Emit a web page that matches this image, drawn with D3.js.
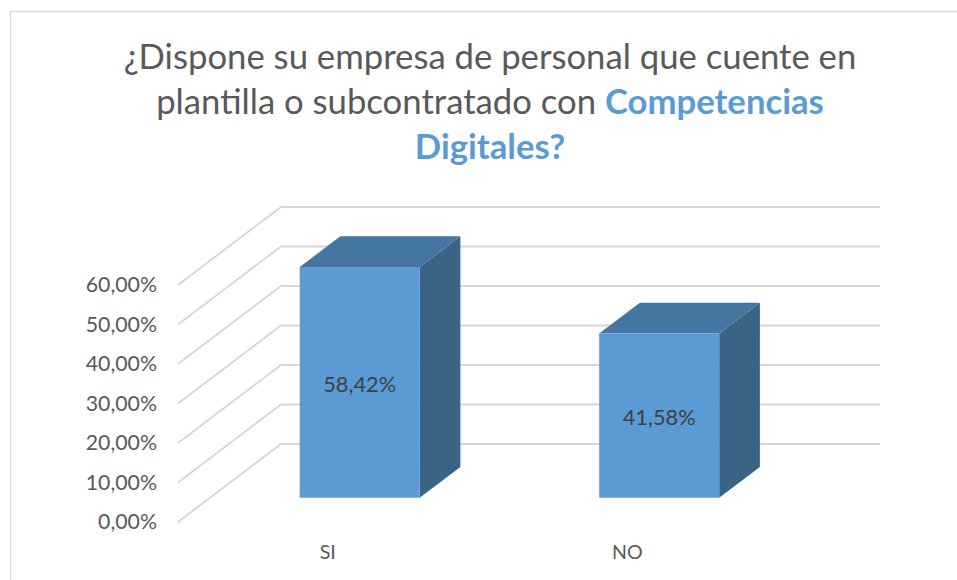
<!DOCTYPE html>
<html>
<head>
<meta charset="utf-8">
<script src="https://cdn.jsdelivr.net/npm/d3@7"></script>
<style>
  html, body { margin: 0; padding: 0; background: #fff; }
  svg { display: block; font-family: Lato, "Open Sans", sans-serif; }
</style>
</head>
<body>
<script>
// chart values
var categories = ["SI", "NO"];
var values = [58.42, 41.58];
var valueLabels = ["58,42%", "41,58%"];
var tickValues = [0, 10, 20, 30, 40, 50, 60];
var tickLabels = ["0,00%", "10,00%", "20,00%", "30,00%", "40,00%", "50,00%", "60,00%"];
var titleLines = [
  [{ text: "¿Dispone su empresa de personal que cuente en", bold: false }],
  [{ text: "plantilla o subcontratado con ", bold: false }, { text: "Competencias", bold: true }],
  [{ text: "Digitales?", bold: true }]
];

var svgWidth = 957;
var svgHeight = 580;

var svg = d3.select("body")
  .append("svg")
  .attr("width", svgWidth)
  .attr("height", svgHeight);

// frame of the chart, cut off by the picture at the right and bottom
svg.append("path")
  .attr("d", "M10.5,580V11.5H957")
  .attr("fill", "none")
  .attr("stroke", "#d9d9d9")
  .attr("stroke-width", 1.3);

// scales live on the front plane, depth shifts a point back into the box
var y = d3.scaleLinear().domain([0, 60]).range([522, 285]);
var x = d3.scaleBand().domain(categories).range([178, 777]);
var depthX = d3.scaleLinear().domain([0, 1]).range([0, 103]);
var depthY = d3.scaleLinear().domain([0, 1]).range([0, -78]);
var barFront = 0.31;
var barBack = 0.705;
var barWidth = 120;

function pt(px, val, depth) {
  return [px + depthX(depth), y(val) + depthY(depth)];
}

// back wall and side wall gridlines
var line = d3.line();
var grid = svg.append("g")
  .attr("fill", "none")
  .attr("stroke", "#d6d6d6")
  .attr("stroke-width", 1.8);

grid.selectAll(".back")
  .data(tickValues)
  .enter()
  .append("path")
  .attr("class", "back")
  .attr("d", d => line([pt(178, d, 1), pt(777, d, 1)]));

grid.selectAll(".side")
  .data(tickValues)
  .enter()
  .append("path")
  .attr("class", "side")
  .attr("d", d => line([pt(178, d, 0), pt(178, d, 1)]));

// y axis labels
var leftAxis = d3.axisLeft(y)
  .tickValues(tickValues)
  .tickSize(0)
  .tickPadding(21)
  .tickFormat((d, i) => tickLabels[i]);

var yAxis = svg.append("g")
  .call(leftAxis)
  .attr("transform", "translate(178, 0)");
yAxis.select(".domain").remove();
yAxis.selectAll("text")
  .attr("font-family", "Lato, sans-serif")
  .attr("font-size", 21.3)
  .attr("fill", "#595959");

// x axis labels
var bottomAxis = d3.axisBottom(x).tickSize(0).tickPadding(23);
var xAxis = svg.append("g")
  .call(bottomAxis)
  .attr("transform", "translate(0, 522)");
xAxis.select(".domain").remove();
xAxis.selectAll("text")
  .attr("font-family", "Lato, sans-serif")
  .attr("font-size", 19.6)
  .attr("fill", "#595959");

// bars
var bars = svg.selectAll(".bar")
  .data(categories)
  .enter()
  .append("g")
  .attr("class", "bar");

function barLeft(d) {
  return x(d) + x.bandwidth() / 2 - barWidth / 2;
}

function poly(points) {
  return line(points) + "Z";
}

// right side
bars.append("path")
  .attr("fill", "#3a6486")
  .attr("d", (d, i) => poly([
    pt(barLeft(d) + barWidth, 0, barFront),
    pt(barLeft(d) + barWidth, 0, barBack),
    pt(barLeft(d) + barWidth, values[i], barBack),
    pt(barLeft(d) + barWidth, values[i], barFront)
  ]));

// top
bars.append("path")
  .attr("fill", "#4575a1")
  .attr("d", (d, i) => poly([
    pt(barLeft(d), values[i], barFront),
    pt(barLeft(d), values[i], barBack),
    pt(barLeft(d) + barWidth, values[i], barBack),
    pt(barLeft(d) + barWidth, values[i], barFront)
  ]));

// front
bars.append("path")
  .attr("fill", "#5b9bd5")
  .attr("d", (d, i) => poly([
    pt(barLeft(d), 0, barFront),
    pt(barLeft(d), values[i], barFront),
    pt(barLeft(d) + barWidth, values[i], barFront),
    pt(barLeft(d) + barWidth, 0, barFront)
  ]));

// data labels, centred on the front face
bars.append("text")
  .attr("x", d => barLeft(d) + depthX(barFront) + barWidth / 2)
  .attr("y", (d, i) => (y(0) + y(values[i])) / 2 + depthY(barFront) + 2)
  .attr("dy", "0.35em")
  .attr("text-anchor", "middle")
  .attr("font-size", 21.8)
  .attr("fill", "#404040")
  .text((d, i) => valueLabels[i]);

// title
var title = svg.append("text")
  .attr("text-anchor", "middle")
  .attr("font-size", 34.7)
  .attr("fill", "#595959");

titleLines.forEach(function(parts, i) {
  var row = title.append("tspan")
    .attr("x", 490)
    .attr("y", 69 + i * 45);
  parts.forEach(function(part) {
    row.append("tspan")
      .attr("font-weight", part.bold ? 700 : 400)
      .attr("fill", part.bold ? "#5b9bd5" : "#595959")
      .text(part.text);
  });
});
</script>
</body>
</html>
